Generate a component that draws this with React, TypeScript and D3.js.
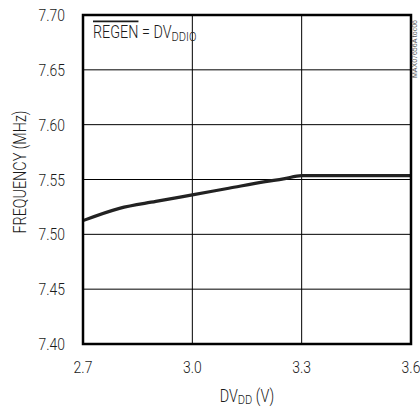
import React from "react";
import * as d3 from "d3";

const voltages = [2.7, 2.8, 2.9, 3.0, 3.1, 3.2, 3.25, 3.3, 3.45, 3.6];
const frequencies = [7.5125, 7.5237, 7.530, 7.536, 7.542, 7.548, 7.5505, 7.5535, 7.5535, 7.5535];
const xTicks = [2.7, 3.0, 3.3, 3.6];
const yTicks = [7.40, 7.45, 7.50, 7.55, 7.60, 7.65, 7.70];

const W = 420, H = 407;
const M = { left: 83, right: 411, top: 15, bottom: 344 };
const FONT = "Roboto, 'Liberation Sans', sans-serif";
const SX = 0.82;

function NText(props: { x: number; y: number; anchor?: string; size: number; rotate?: number; children: React.ReactNode }) {
  const { x, y, anchor = "start", size, rotate = 0, children } = props;
  return (
    <text
      transform={`translate(${x},${y}) rotate(${rotate}) scale(${SX},1)`}
      textAnchor={anchor}
      fontSize={size}
      fontWeight={300}
      fill="#1a1a1a"
    >
      {children}
    </text>
  );
}

export default function App() {
  const x = d3.scaleLinear().domain([2.7, 3.6]).range([M.left, M.right]);
  const y = d3.scaleLinear().domain([7.40, 7.70]).range([M.bottom, M.top]);
  const line = d3.line<number>()
    .x((_, i) => x(voltages[i]))
    .y((d) => y(d))
    .curve(d3.curveMonotoneX);

  return (
    <svg width={W} height={H} style={{ position: "absolute", left: 0, top: 0, background: "#fff" }} fontFamily={FONT}>
      {xTicks.slice(1, -1).map((t) => (
        <line key={"gx" + t} x1={x(t)} x2={x(t)} y1={M.top} y2={M.bottom} stroke="#000" strokeWidth={1} />
      ))}
      {yTicks.slice(1, -1).map((t) => (
        <line key={"gy" + t} x1={M.left} x2={M.right} y1={y(t)} y2={y(t)} stroke="#000" strokeWidth={1} />
      ))}
      <path d={line(frequencies) || ""} fill="none" stroke="#222" strokeWidth={3.2} strokeLinejoin="round" />
      <rect x={M.left} y={M.top} width={M.right - M.left} height={M.bottom - M.top} fill="none" stroke="#000" strokeWidth={2.5} />
      {yTicks.map((t) => (
        <NText key={"yl" + t} x={65} y={y(t) + 6} anchor="end" size={17}>
          {t.toFixed(2)}
        </NText>
      ))}
      {xTicks.map((t) => (
        <NText key={"xl" + t} x={x(t)} y={373} anchor="middle" size={17}>
          {t.toFixed(1)}
        </NText>
      ))}
      <NText x={247} y={402} anchor="middle" size={17.5}>
        DV<tspan fontSize={13.5} dy={2}>DD</tspan><tspan dy={-2}> (V)</tspan>
      </NText>
      <NText x={26} y={172} anchor="middle" size={17.5} rotate={-90}>
        FREQUENCY (MHz)
      </NText>
      <NText x={93} y={38} size={17.5}>
        <tspan textDecoration="overline">REGEN</tspan> = DV<tspan fontSize={13.5} dy={3}>DDIO</tspan>
      </NText>
      <text transform="translate(417,78) rotate(-90)" fontSize={7} fill="#555" fontFamily="'Liberation Sans Narrow', sans-serif">MAX07656A toc06</text>
    </svg>
  );
}
